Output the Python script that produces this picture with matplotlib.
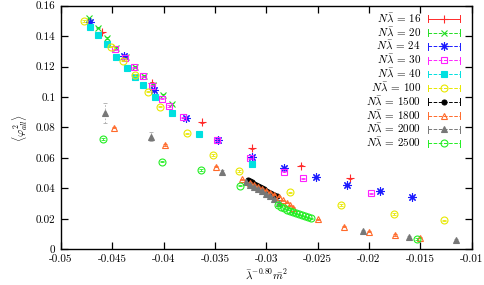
"""Condensate vs rescaled mass, several N*lambda."""

import matplotlib
matplotlib.use("Agg")
import matplotlib.pyplot as plt
from matplotlib.lines import Line2D
from matplotlib.legend_handler import HandlerBase

plt.rcParams["font.family"] = "serif"
plt.rcParams["font.serif"] = ["cmr10", "DejaVu Serif"]
plt.rcParams["mathtext.fontset"] = "cm"
plt.rcParams["axes.unicode_minus"] = False

# data
x16 = [-0.0460, -0.0411, -0.0363, -0.0314, -0.0266, -0.0218]
y16 = [0.1425, 0.1094, 0.0834, 0.0663, 0.0549, 0.0466]

x20 = [-0.0473, -0.0464, -0.0455, -0.0446, -0.0437, -0.0428, -0.0419, -0.0410, -0.0401, -0.0392]
y20 = [0.1517, 0.1455, 0.1388, 0.1322, 0.1262, 0.1200, 0.1140, 0.1080, 0.1013, 0.0954]

x24 = [-0.0472, -0.0439, -0.0409, -0.0378, -0.0347, -0.0314, -0.0283, -0.0252, -0.0221, -0.0189, -0.0158]
y24 = [0.1495, 0.1270, 0.1046, 0.0860, 0.0718, 0.0608, 0.0532, 0.0473, 0.0422, 0.0383, 0.0346]

x30 = [-0.0447, -0.0438, -0.0429, -0.0420, -0.0411, -0.0402, -0.0395, -0.0381, -0.0348, -0.0316, -0.0283, -0.0264, -0.0198]
y30 = [0.1314, 0.1255, 0.1195, 0.1137, 0.1075, 0.0990, 0.0941, 0.0867, 0.0718, 0.0598, 0.0510, 0.0466, 0.0368]

x40 = [-0.0472, -0.0464, -0.0455, -0.0446, -0.0436, -0.0428, -0.0420, -0.0408, -0.0392, -0.0366, -0.0314]
y40 = [0.1462, 0.1405, 0.1346, 0.1265, 0.1189, 0.1134, 0.1080, 0.0998, 0.0897, 0.0755, 0.0558]

x100 = [-0.0478, -0.0451, -0.0440, -0.0428, -0.0415, -0.0404, -0.0377, -0.0352, -0.0327,
        -0.0277, -0.0227, -0.0176, -0.0127]
y100 = [0.1499, 0.1331, 0.1239, 0.1145, 0.1035, 0.0937, 0.0762, 0.0619, 0.0514,
        0.0374, 0.0291, 0.0232, 0.0190]

x1500 = [-0.0318, -0.0316, -0.0314, -0.0312, -0.0310, -0.0308, -0.0306, -0.0304,
         -0.0302, -0.0300, -0.0298, -0.0296, -0.0294, -0.0292, -0.0290]
y1500 = [0.0455, 0.0447, 0.0440, 0.0432, 0.0424, 0.0417, 0.0409, 0.0401,
         0.0394, 0.0386, 0.0379, 0.0371, 0.0364, 0.0357, 0.0350]

x1800 = [-0.0448, -0.0399, -0.0349, -0.0324, -0.0316, -0.0312, -0.0308, -0.0304, -0.0300,
         -0.0296, -0.0292, -0.0288, -0.0284, -0.0280, -0.0277, -0.0274,
         -0.0250, -0.0224, -0.0200, -0.0175, -0.0150]
y1800 = [0.0799, 0.0685, 0.0543, 0.0460, 0.0438, 0.0424, 0.0411, 0.0398, 0.0385,
         0.0372, 0.0358, 0.0345, 0.0322, 0.0305, 0.0290, 0.0274,
         0.0197, 0.0148, 0.0116, 0.0094, 0.0076]

x2000 = [-0.0457, -0.0412, -0.0343, -0.0320, -0.0316, -0.0312, -0.0308, -0.0304, -0.0300,
         -0.0296, -0.0292, -0.0288, -0.0206, -0.0161, -0.0115]
y2000 = [0.0897, 0.0740, 0.0510, 0.0440, 0.0425, 0.0410, 0.0395, 0.0380, 0.0365,
         0.0348, 0.0330, 0.0305, 0.0122, 0.0081, 0.0061]
e2000 = [0.0066, 0.0030, 0.0008, 0.0004, 0.0004, 0.0004, 0.0004, 0.0004, 0.0004,
         0.0004, 0.0004, 0.0004, 0.0004, 0.0004, 0.0004]

x2500 = [-0.0459, -0.0402, -0.0364, -0.0326, -0.0289, -0.0286, -0.0283, -0.0280, -0.0277,
         -0.0274, -0.0271, -0.0268, -0.0265, -0.0262, -0.0259, -0.0256, -0.0153]
y2500 = [0.0724, 0.0576, 0.0521, 0.0418, 0.0291, 0.0280, 0.0270, 0.0261, 0.0252,
         0.0244, 0.0236, 0.0229, 0.0222, 0.0216, 0.0210, 0.0204, 0.0068]

labels = ["16", "20", "24", "30", "40", "100", "1500", "1800", "2000", "2500"]

xticks = [-0.05, -0.045, -0.04, -0.035, -0.03, -0.025, -0.02, -0.015, -0.01]
xticklabels = ["-0.05", "-0.045", "-0.04", "-0.035", "-0.03", "-0.025", "-0.02", "-0.015", "-0.01"]
yticks = [0, 0.02, 0.04, 0.06, 0.08, 0.1, 0.12, 0.14, 0.16]
yticklabels = ["0", "0.02", "0.04", "0.06", "0.08", "0.1", "0.12", "0.14", "0.16"]

# styles: color, marker, filled, linestyle, markersize
styles = [
    ("#ff2a2a", "+", False, "-", 6.0),
    ("#22dd22", "x", False, (0, (5, 3)), 5.0),
    ("#1a1aff", (8, 2, 0), False, (0, (3, 2)), 6.0),
    ("#ff22ff", "s", False, (0, (1, 1.5)), 5.0),
    ("#00e0e0", "s", True, (0, (5, 2, 1, 2)), 4.8),
    ("#e8e800", "o", False, (0, (4, 2)), 5.0),
    ("#000000", "o", True, (0, (2, 2)), 3.6),
    ("#ff6a2a", "^", False, (0, (3, 2)), 5.0),
    ("#777777", "^", True, (0, (2, 2)), 4.5),
    ("#22ee22", "o", False, (0, (5, 2, 1, 2)), 5.0),
]

xs = [x16, x20, x24, x30, x40, x100, x1500, x1800, x2000, x2500]
ys = [y16, y20, y24, y30, y40, y100, y1500, y1800, y2000, y2500]

# pad shorter numbers so the legend texts line up on the right, like gnuplot
pads = {2: r"\quad ", 3: r"\enspace ", 4: ""}


class ErrbarHandler(HandlerBase):
    """gnuplot-like legend sample: line with end caps and a marker."""

    def create_artists(self, legend, orig, xdescent, ydescent, width, height,
                       fontsize, trans):
        y = height / 2 - ydescent
        x0, x1 = -xdescent, width - xdescent
        c = orig.get_color()
        ls = orig.get_linestyle()
        line = Line2D([x0, x1], [y, y], color=c, ls=ls, lw=0.7, transform=trans)
        cap = 0.3 * fontsize
        capl = Line2D([x0, x0], [y - cap, y + cap], color=c, lw=0.7, transform=trans)
        capr = Line2D([x1, x1], [y - cap, y + cap], color=c, lw=0.7, transform=trans)
        mk = Line2D([(x0 + x1) / 2], [y], ls="none", marker=orig.get_marker(),
                    ms=orig.get_markersize(), mec=c, mew=0.8,
                    mfc=orig.get_markerfacecolor(), transform=trans)
        return [line, capl, capr, mk]


fig = plt.figure(figsize=(4.85, 2.85), dpi=100)
ax = fig.add_axes([0.1258, 0.1253, 0.8464, 0.8547])

handles = []
for i, (lab, (col, mk, filled, ls, ms)) in enumerate(zip(labels, styles)):
    x, y = xs[i], ys[i]
    err = e2000 if lab == "2000" else 0.0004
    ecol = "#aaaaaa" if lab == "2000" else col
    eb = ax.errorbar(x, y, yerr=err, fmt="none", ecolor=ecol, elinewidth=0.6,
                     capsize=1.5, capthick=0.6, zorder=2 + i)
    if lab == "2000":
        eb[2][0].set_linestyle((0, (2, 2)))
    mfc = col if filled else "none"
    ax.plot(x, y, ls="none", marker=mk, ms=ms, mec=col, mfc=mfc, mew=0.8,
            zorder=2 + i)
    text = r"$%sN\bar{\lambda}\,=\,%s$" % (pads[len(lab)], lab)
    handles.append(Line2D([], [], color=col, ls=ls, marker=mk, ms=ms, mfc=mfc,
                          label=text))

ax.set_xlim(-0.05, -0.01)
ax.set_ylim(0, 0.16)
ax.set_xticks(xticks)
ax.set_xticklabels(xticklabels)
ax.set_yticks(yticks)
ax.set_yticklabels(yticklabels)
ax.tick_params(direction="in", length=5, width=0.9, top=True, right=True,
               labelsize=8, pad=4)
for s in ax.spines.values():
    s.set_linewidth(1.0)

ax.set_xlabel(r"$\bar{\lambda}^{-0.80}\bar{m}^2$", fontsize=8, labelpad=2)
ax.set_ylabel(r"$\langle\varphi^2_{all}\rangle$", fontsize=8, labelpad=4)

leg = ax.legend(handles=handles, loc="upper right", bbox_to_anchor=(0.972, 0.975),
                frameon=False, markerfirst=False, fontsize=8, handlelength=2.9,
                handletextpad=0.6, labelspacing=0.07, borderpad=0, borderaxespad=0,
                handler_map={Line2D: ErrbarHandler()})

fig.savefig("out.png", dpi=100)
